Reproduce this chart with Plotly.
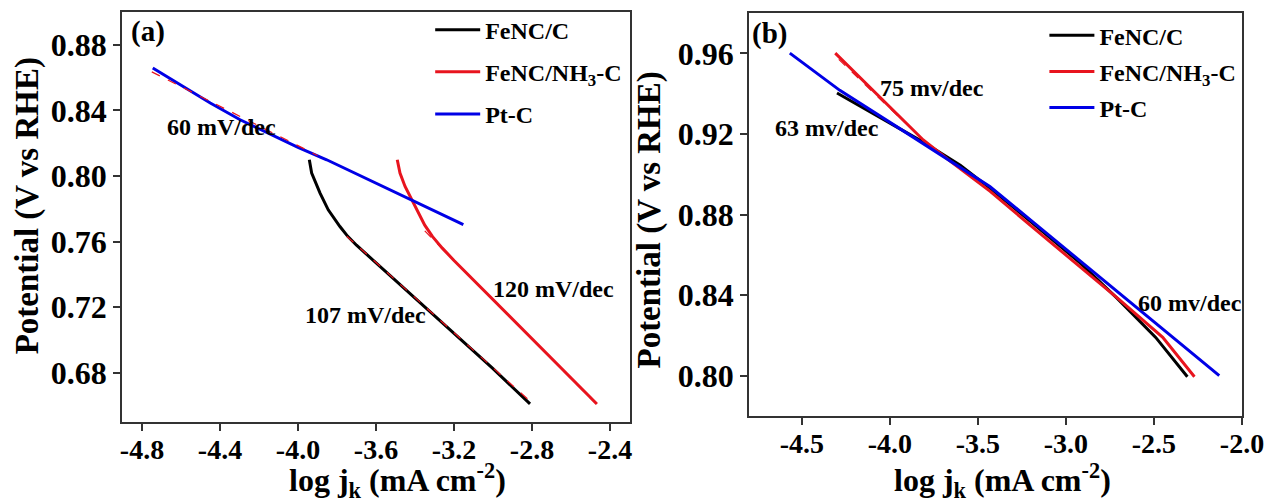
import plotly.graph_objects as go

FONT = "Liberation Serif"
INK = "#333333"
BLACK = "#000000"
RED = "#e8141e"
BLUE = "#0000e6"

# ---------------- Panel (a) data ----------------
a_fenc_x = [-3.942, -3.930, -3.887, -3.845, -3.785, -3.745, -3.700, -3.640, -3.571, -3.400, -3.200, -3.000, -2.810]
a_fenc_y = [0.8099, 0.8018, 0.7896, 0.7794, 0.7692, 0.7632, 0.7578, 0.7513, 0.7438, 0.7255, 0.7040, 0.6825, 0.6610]

a_nh3_x = [-3.491, -3.477, -3.451, -3.417, -3.383, -3.350, -3.310, -3.260, -3.200, -3.169, -3.000, -2.800, -2.600, -2.467]
a_nh3_y = [0.8099, 0.8018, 0.7936, 0.7855, 0.7770, 0.7700, 0.7630, 0.7560, 0.7485, 0.7448, 0.7247, 0.7009, 0.6771, 0.6610]

a_pt_x = [-4.745, -4.600, -4.450, -4.297, -4.150, -4.000, -3.853, -3.700, -3.550, -3.426, -3.300, -3.152]
a_pt_y = [0.8658, 0.8555, 0.8445, 0.8343, 0.8260, 0.8175, 0.8099, 0.8012, 0.7928, 0.7860, 0.7787, 0.7703]

# Tafel fit lines (red dashed)
a_fit_pt_x = [-4.75, -3.90]
a_fit_pt_y = [0.8635, 0.8125]
a_fit_fenc_x = [-3.75, -2.81]
a_fit_fenc_y = [0.7633, 0.6627]
a_fit_nh3_x = [-3.35, -2.47]
a_fit_nh3_y = [0.7665, 0.6609]

a_xticks = [-4.8, -4.4, -4.0, -3.6, -3.2, -2.8, -2.4]
a_xtick_text = ["-4.8", "-4.4", "-4.0", "-3.6", "-3.2", "-2.8", "-2.4"]
a_yticks = [0.68, 0.72, 0.76, 0.80, 0.84, 0.88]
a_ytick_text = ["0.68", "0.72", "0.76", "0.80", "0.84", "0.88"]

# ---------------- Panel (b) data ----------------
b_fenc_x = [-4.30, -4.06, -3.81, -3.60, -3.43, -3.20, -2.92, -2.71, -2.49, -2.31]
b_fenc_y = [0.9403, 0.9283, 0.9159, 0.9045, 0.8930, 0.8765, 0.8560, 0.8385, 0.8190, 0.7995]

b_nh3_x = [-4.31, -4.10, -3.90, -3.81, -3.65, -3.43, -3.20, -2.92, -2.70, -2.45, -2.27]
b_nh3_y = [0.9601, 0.9420, 0.9245, 0.9170, 0.9060, 0.8915, 0.8745, 0.8538, 0.8380, 0.8190, 0.7995]

b_pt_x = [-4.568, -4.284, -3.868, -3.432, -3.200, -2.920, -2.579, -2.350, -2.129]
b_pt_y = [0.9601, 0.9416, 0.9184, 0.8939, 0.8772, 0.8571, 0.8326, 0.8161, 0.8000]

b_fit_nh3_x = [-4.29, -3.95]
b_fit_nh3_y = [0.9570, 0.9285]

b_xticks = [-4.5, -4.0, -3.5, -3.0, -2.5, -2.0]
b_xtick_text = ["-4.5", "-4.0", "-3.5", "-3.0", "-2.5", "-2.0"]
b_yticks = [0.80, 0.84, 0.88, 0.92, 0.96]
b_ytick_text = ["0.80", "0.84", "0.88", "0.92", "0.96"]

series_names = ["FeNC/C", "FeNC/NH<sub>3</sub>-C", "Pt-C"]
series_colors = [BLACK, RED, BLUE]

fig = go.Figure()

# Panel (a) curves
for i, (xs, ys) in enumerate([(a_fenc_x, a_fenc_y), (a_nh3_x, a_nh3_y), (a_pt_x, a_pt_y)]):
    fig.add_trace(go.Scatter(x=xs, y=ys, mode="lines", name=series_names[i],
                             line=dict(color=series_colors[i], width=3),
                             legend="legend", legendgroup="a%d" % i,
                             xaxis="x", yaxis="y"))
for xs, ys in [(a_fit_pt_x, a_fit_pt_y), (a_fit_fenc_x, a_fit_fenc_y), (a_fit_nh3_x, a_fit_nh3_y)]:
    fig.add_trace(go.Scatter(x=xs, y=ys, mode="lines", showlegend=False,
                             line=dict(color=RED, width=1.2, dash="dash"),
                             xaxis="x", yaxis="y", hoverinfo="skip"))

# Panel (b) curves
for i, (xs, ys) in enumerate([(b_fenc_x, b_fenc_y), (b_nh3_x, b_nh3_y), (b_pt_x, b_pt_y)]):
    fig.add_trace(go.Scatter(x=xs, y=ys, mode="lines", name=series_names[i],
                             line=dict(color=series_colors[i], width=3),
                             legend="legend2", legendgroup="b%d" % i,
                             xaxis="x2", yaxis="y2"))
for xs, ys in [(b_fit_nh3_x, b_fit_nh3_y)]:
    fig.add_trace(go.Scatter(x=xs, y=ys, mode="lines", showlegend=False,
                             line=dict(color=RED, width=1.2, dash="dash"),
                             xaxis="x2", yaxis="y2", hoverinfo="skip"))

axis_common = dict(showgrid=False, zeroline=False, showline=True, mirror=True,
                   linecolor=INK, linewidth=1.5, ticks="outside", ticklen=7,
                   tickwidth=1.5, tickcolor=INK)
xtick_font = dict(family=FONT, size=28, color=BLACK, weight="bold")
ytick_font = dict(family=FONT, size=32, color=BLACK, weight="bold")

fig.update_layout(
    width=1269, height=504, autosize=False,
    margin=dict(l=0, r=0, t=0, b=0, autoexpand=False),
    paper_bgcolor="white", plot_bgcolor="white",
    font=dict(family=FONT, color=BLACK),
    xaxis=dict(domain=[0.0961, 0.4965], range=[-4.903, -2.297], anchor="y",
               tickvals=a_xticks, ticktext=a_xtick_text, tickfont=xtick_font,
               ticklabelstandoff=-5, **axis_common),
    yaxis=dict(domain=[0.1627, 0.9762], range=[0.65, 0.90], anchor="x",
               tickvals=a_yticks, ticktext=a_ytick_text, tickfont=ytick_font,
               **axis_common),
    xaxis2=dict(domain=[0.5902, 0.9787], range=[-4.8, -2.0], anchor="y2",
                tickvals=b_xticks, ticktext=b_xtick_text, tickfont=xtick_font,
                ticklabelstandoff=-5, **axis_common),
    yaxis2=dict(domain=[0.1746, 0.9742], range=[0.78, 0.98], anchor="x2",
                tickvals=b_yticks, ticktext=b_ytick_text, tickfont=ytick_font,
                **axis_common),
    legend=dict(x=0.339, y=0.985, xanchor="left", yanchor="top",
                bgcolor="rgba(0,0,0,0)", tracegroupgap=8, itemwidth=45,
                font=dict(family=FONT, size=24, color=BLACK, weight="bold")),
    legend2=dict(x=0.823, y=0.974, xanchor="left", yanchor="top",
                 bgcolor="rgba(0,0,0,0)", tracegroupgap=2, itemwidth=45,
                 font=dict(family=FONT, size=24, color=BLACK, weight="bold")),
    showlegend=True,
)

ann_font = dict(family=FONT, size=24, color=BLACK, weight="bold")
title_font = dict(family=FONT, size=33, color=BLACK, weight="bold")
xtitle_font = dict(family=FONT, size=32, color=BLACK, weight="bold")
panel_font = dict(family=FONT, size=29, color=BLACK, weight="bold")
annotations = [
    dict(text="(a)", x=-4.769, y=0.888, xref="x", yref="y", font=panel_font),
    dict(text="60 mV/dec", x=-4.392, y=0.830, xref="x", yref="y", font=ann_font),
    dict(text="107 mV/dec", x=-3.656, y=0.7154, xref="x", yref="y", font=ann_font),
    dict(text="120 mV/dec", x=-2.690, y=0.7312, xref="x", yref="y", font=ann_font),
    dict(text="(b)", x=-4.682, y=0.970, xref="x2", yref="y2", font=panel_font),
    dict(text="75 mv/dec", x=-3.758, y=0.9426, xref="x2", yref="y2", font=ann_font),
    dict(text="63 mv/dec", x=-4.355, y=0.9227, xref="x2", yref="y2", font=ann_font),
    dict(text="60 mv/dec", x=-2.295, y=0.8362, xref="x2", yref="y2", font=ann_font),
    # axis titles
    dict(text="log j<sub>k</sub> (mA cm<sup>-2</sup>)", x=-3.492, y=0.047, xref="x", yref="paper", font=xtitle_font),
    dict(text="log j<sub>k</sub> (mA cm<sup>-2</sup>)", x=-3.358, y=0.047, xref="x2", yref="paper", font=xtitle_font),
    dict(text="Potential (V vs RHE)", x=0.0213, y=0.7815, xref="paper", yref="y", textangle=-90, font=title_font),
    dict(text="Potential (V vs RHE)", x=0.5122, y=0.8775, xref="paper", yref="y2", textangle=-90, font=title_font),
]
for a in annotations:
    a.update(showarrow=False, xanchor="center", yanchor="middle")
fig.update_layout(annotations=annotations)

fig.write_html("out.html", config={"responsive": False})
